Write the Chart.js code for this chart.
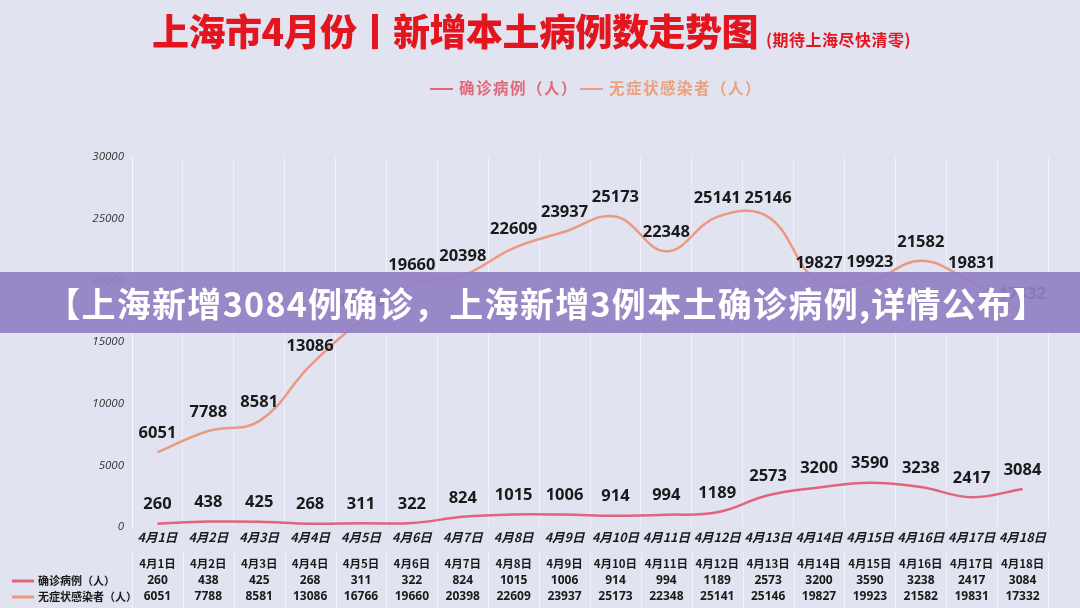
<!DOCTYPE html>
<html lang="zh">
<head>
<meta charset="UTF-8">
<title>上海市4月份新增本土病例数走势图</title>
<script src="https://cdn.jsdelivr.net/npm/chart.js"></script>
<style>
    html, body { margin: 0; padding: 0; }
    body { width: 1080px; height: 608px; background: #e1e3f0; position: relative; overflow: hidden;
           font-family: "Noto Sans CJK SC", "Noto Sans", sans-serif; }
    #chart { position: absolute; left: 0; top: 0; }
    .title { position: absolute; left: 152px; top: 3px; color: #e3161f; font-weight: 900; font-size: 37px; white-space: nowrap; letter-spacing: -0.5px; }
    .title small { font-size: 16px; font-weight: 700; margin-left: 8px; letter-spacing: 0.5px; }
    .legend { position: absolute; left: 430px; top: 76px; font-size: 15.5px; font-weight: 700; white-space: nowrap; letter-spacing: 1.5px; }
    .legend .mk { display: inline-block; width: 23px; height: 2px; vertical-align: middle; margin-right: 6px; position: relative; top: -1px; }
    .legend .c { color: #e0687a; }
    .legend .a { color: #eba07e; margin-left: 2px; }
    .banner { position: absolute; left: 0; top: 272px; width: 1080px; height: 61px; background: rgba(146, 128, 196, 0.92);
              color: #fff; font-size: 34px; font-weight: 700; text-align: center; line-height: 61px; white-space: nowrap; letter-spacing: 1.3px; text-indent: 14px; }
</style>
</head>
<body>
<canvas id="chart" width="1080" height="608"></canvas>
<div class="title">上海市4月份丨新增本土病例数走势图<small>(期待上海尽快清零)</small></div>
<div class="legend"><span class="c"><span class="mk" style="background:#e0687a"></span>确诊病例（人）</span><span class="a"><span class="mk" style="background:#eba07e"></span>无症状感染者（人）</span></div>
<div class="banner">【上海新增3084例确诊，上海新增3例本土确诊病例,详情公布】</div>

<script>
// 数据
const dates = ['4月1日', '4月2日', '4月3日', '4月4日', '4月5日', '4月6日', '4月7日', '4月8日', '4月9日',
               '4月10日', '4月11日', '4月12日', '4月13日', '4月14日', '4月15日', '4月16日', '4月17日', '4月18日'];
const confirmed = [260, 438, 425, 268, 311, 322, 824, 1015, 1006, 914, 994, 1189, 2573, 3200, 3590, 3238, 2417, 3084];
const asymptomatic = [6051, 7788, 8581, 13086, 16766, 19660, 20398, 22609, 23937, 25173, 22348, 25141, 25146, 19827, 19923, 21582, 19831, 17332];
const seriesNames = ['确诊病例（人）', '无症状感染者（人）'];
const yMax = 30000;
const yStep = 5000;

const colorConfirmed = '#e0647a';
const colorAsym = '#eb9a80';

// 数值标签
const valueLabels = {
    id: 'valueLabels',
    afterDatasetsDraw(chart) {
        const ctx = chart.ctx;
        ctx.save();
        ctx.font = 'bold 16.5px "Open Sans", sans-serif';
        ctx.fillStyle = '#1a1a1a';
        ctx.textAlign = 'center';
        ctx.textBaseline = 'middle';
        chart.data.datasets.forEach((ds, di) => {
            chart.getDatasetMeta(di).data.forEach((pt, i) => {
                ctx.fillText(String(ds.data[i]), pt.x, pt.y - 19);
            });
        });
        ctx.restore();
    }
};

// 底部表格
const bottomTable = {
    id: 'bottomTable',
    afterDraw(chart) {
        const ctx = chart.ctx;
        const xs = chart.scales.x;
        const step = xs.getPixelForValue(1) - xs.getPixelForValue(0);
        ctx.save();
        // 分隔线
        ctx.strokeStyle = 'rgba(255,255,255,0.5)';
        ctx.lineWidth = 1;
        for (let i = 0; i <= dates.length; i++) {
            const x = Math.round(xs.getPixelForValue(0) - step / 2 + i * step) + 0.5;
            ctx.beginPath();
            ctx.moveTo(x, 552);
            ctx.lineTo(x, 608);
            ctx.stroke();
        }
        ctx.textAlign = 'center';
        ctx.textBaseline = 'middle';
        ctx.fillStyle = '#1a1a1a';
        dates.forEach((d, i) => {
            const x = xs.getPixelForValue(i);
            ctx.font = 'italic bold 12.5px "Noto Sans CJK SC", sans-serif';
            ctx.fillText(d, x, 537);
            ctx.font = 'bold 11.5px "Noto Sans CJK SC", sans-serif';
            ctx.fillText(d, x, 564);
            ctx.font = 'bold 12px "Open Sans", sans-serif';
            ctx.fillText(String(confirmed[i]), x, 581);
            ctx.fillText(String(asymptomatic[i]), x, 597);
        });
        // 左侧图例
        [[colorConfirmed, 581], [colorAsym, 597]].forEach(([c, y], k) => {
            ctx.strokeStyle = c;
            ctx.lineWidth = 3;
            ctx.beginPath();
            ctx.moveTo(12, y);
            ctx.lineTo(34, y);
            ctx.stroke();
            ctx.textAlign = 'left';
            ctx.font = 'bold 11px "Noto Sans CJK SC", sans-serif';
            ctx.fillText(seriesNames[k], 38, y);
        });
        ctx.restore();
    }
};

new Chart(document.getElementById('chart'), {
    type: 'line',
    data: {
        labels: dates,
        datasets: [{
            label: seriesNames[0],
            data: confirmed,
            borderColor: colorConfirmed,
            borderWidth: 2.5,
            pointRadius: 0,
            tension: 0.4,
            fill: false
        }, {
            label: seriesNames[1],
            data: asymptomatic,
            borderColor: colorAsym,
            borderWidth: 2.5,
            pointRadius: 0,
            tension: 0.4,
            fill: false
        }]
    },
    options: {
        responsive: false,
        animation: false,
        layout: { padding: { left: 72, right: 32, top: 157, bottom: 81 } },
        plugins: { legend: { display: false }, tooltip: { enabled: false } },
        scales: {
            x: {
                offset: true,
                ticks: { display: false },
                grid: { offset: true, color: 'rgba(255,255,255,0.5)', drawTicks: false },
                border: { display: false }
            },
            y: {
                min: 0,
                max: yMax,
                afterFit(scale) { scale.width = 60; },
                ticks: {
                    stepSize: yStep,
                    padding: 8,
                    color: '#333',
                    callback: v => String(v),
                    font: { family: '"Open Sans", sans-serif', size: 11.5, style: 'italic' }
                },
                grid: { display: false, drawTicks: false },
                border: { color: 'rgba(255,255,255,0.7)' }
            }
        }
    },
    plugins: [valueLabels, bottomTable]
});
</script>
</body>
</html>
